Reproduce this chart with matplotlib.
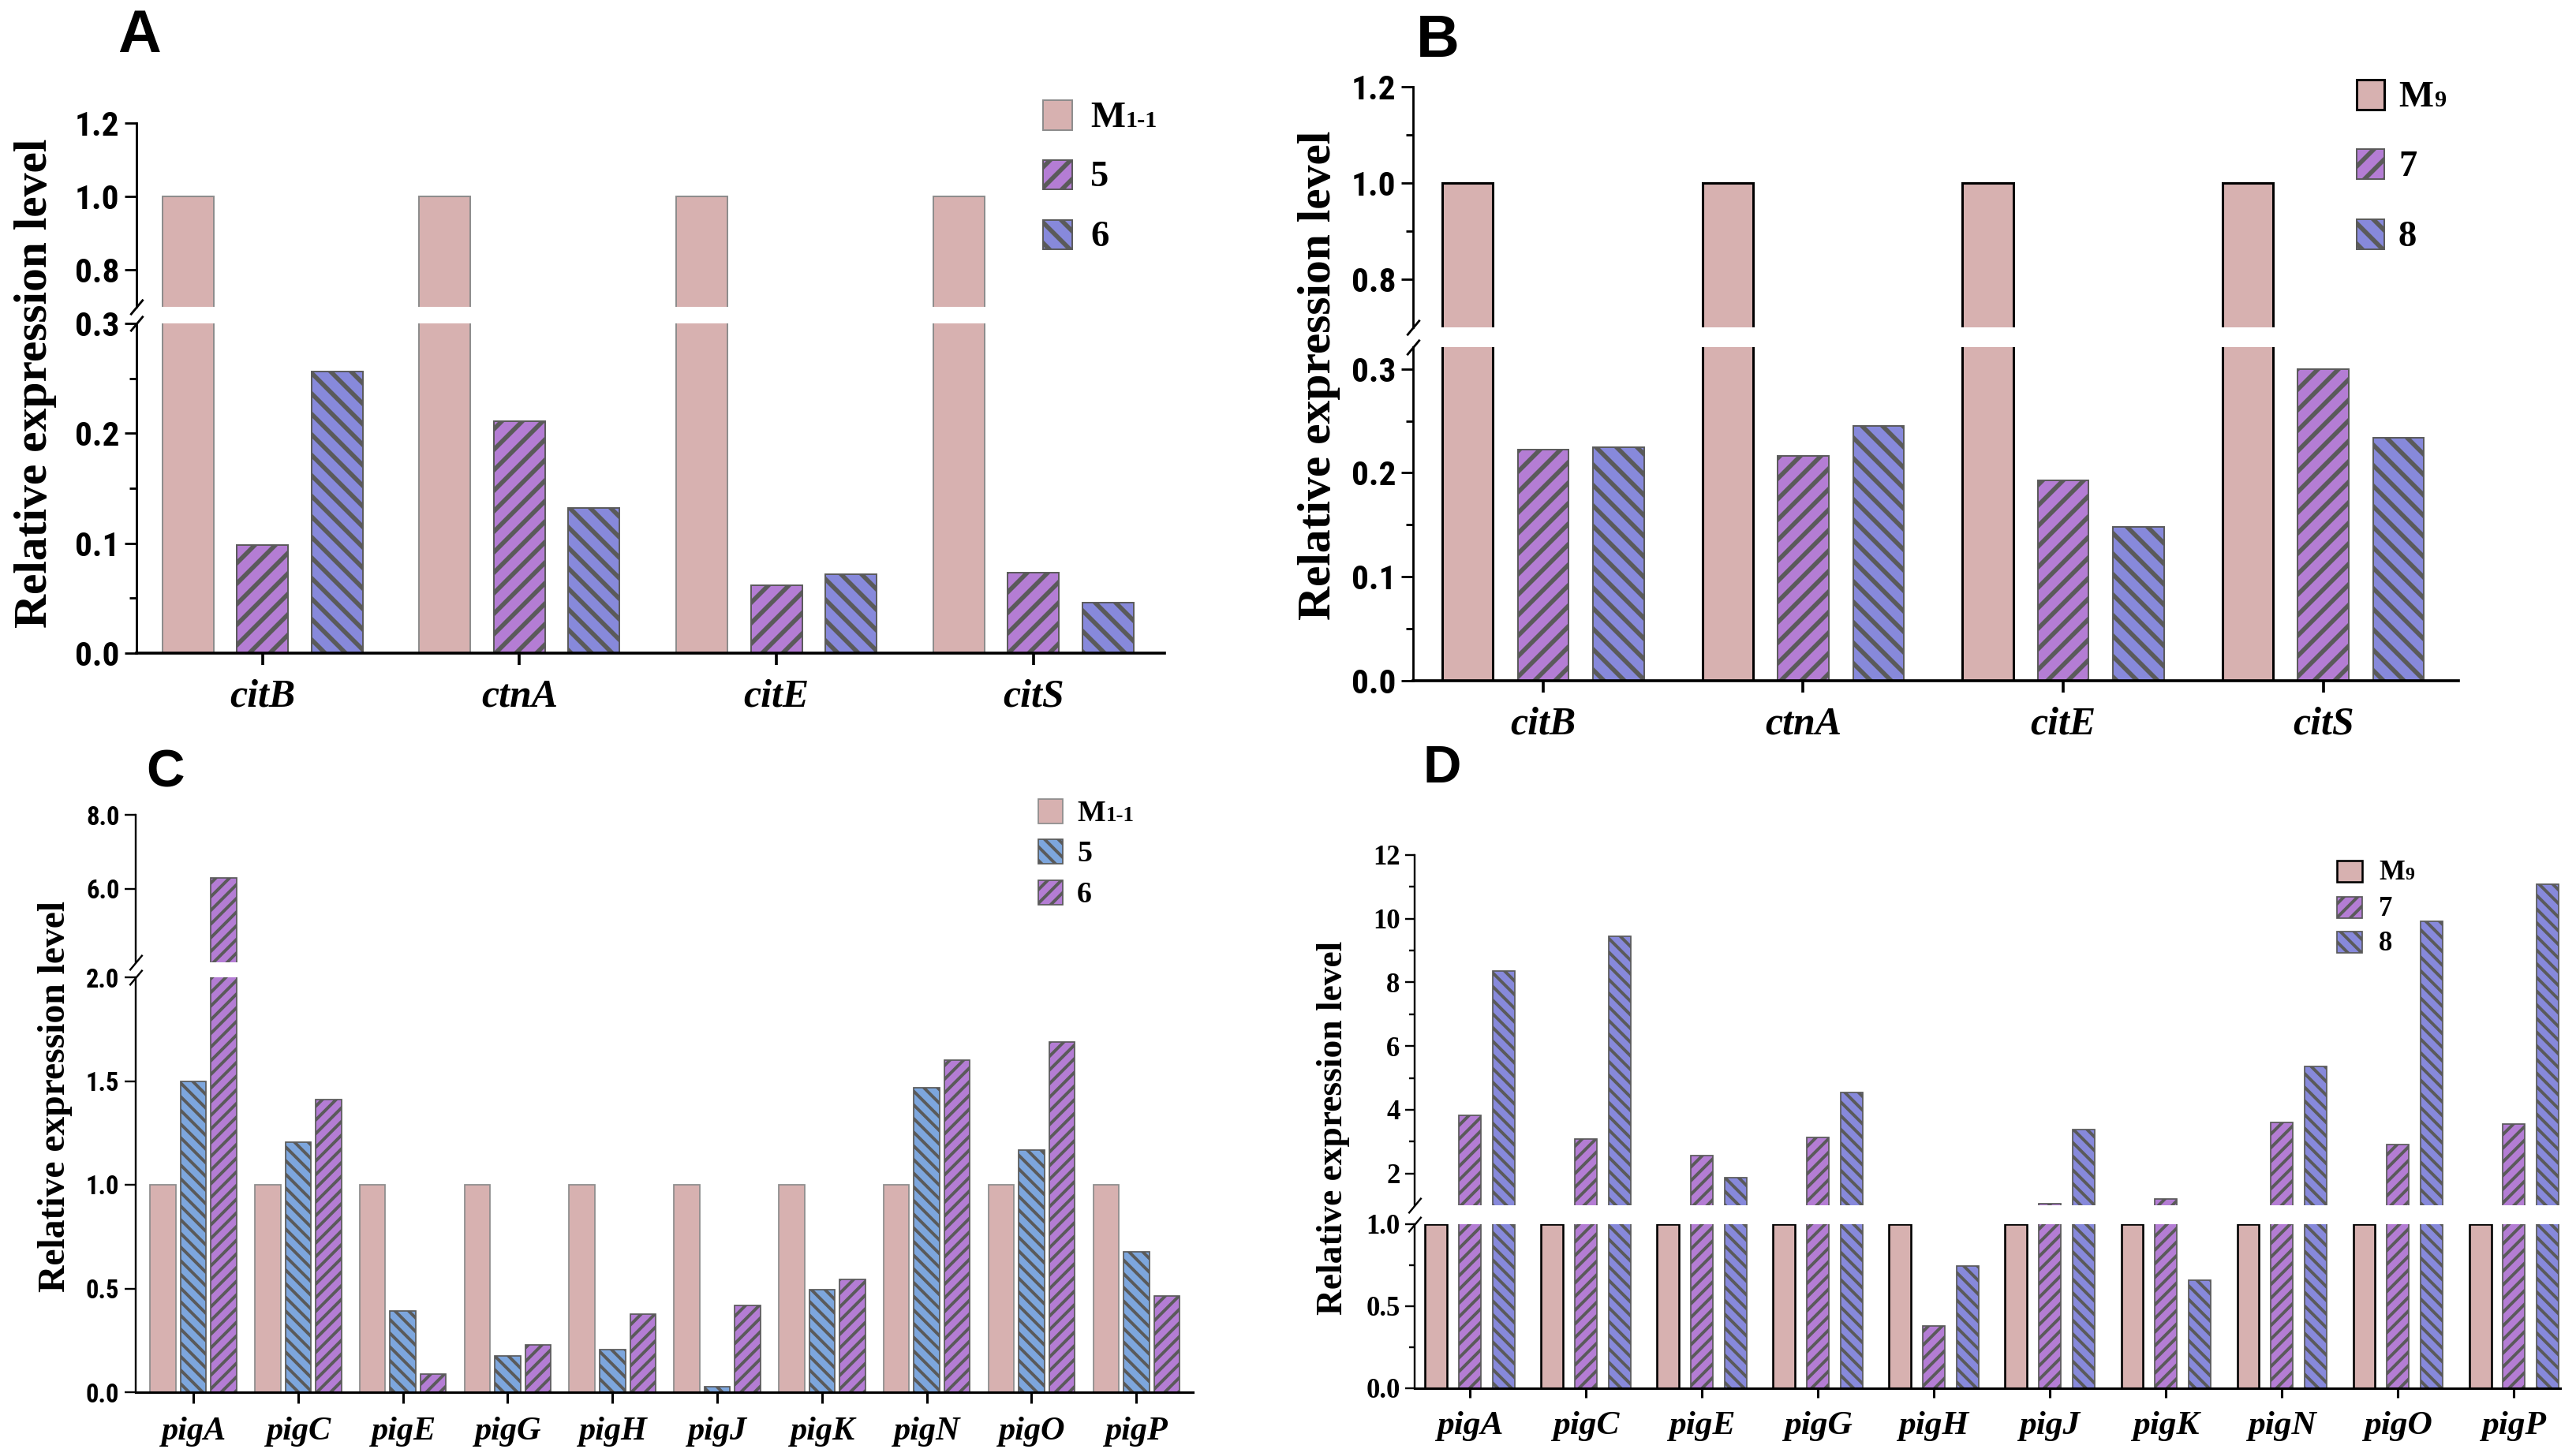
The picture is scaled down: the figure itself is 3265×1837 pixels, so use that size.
import numpy as np
import matplotlib
matplotlib.use('Agg')
import matplotlib.pyplot as plt
from matplotlib.patches import Rectangle
from matplotlib.text import Annotation
from matplotlib import font_manager

# data
cit_genes = ['citB', 'ctnA', 'citE', 'citS']
a_m11 = [1.0, 1.0, 1.0, 1.0]
a_5 = [0.098, 0.211, 0.062, 0.073]
a_6 = [0.256, 0.132, 0.072, 0.046]

b_m9 = [1.0, 1.0, 1.0, 1.0]
b_7 = [0.222, 0.216, 0.193, 0.300]
b_8 = [0.225, 0.245, 0.148, 0.234]

pig_genes = ['pigA', 'pigC', 'pigE', 'pigG', 'pigH', 'pigJ', 'pigK', 'pigN', 'pigO', 'pigP']
c_m11 = [1.0, 1.0, 1.0, 1.0, 1.0, 1.0, 1.0, 1.0, 1.0, 1.0]
c_5 = [1.50, 1.206, 0.393, 0.175, 0.204, 0.026, 0.493, 1.469, 1.167, 0.675]
c_6 = [6.28, 1.41, 0.088, 0.23, 0.377, 0.417, 0.544, 1.60, 1.689, 0.463]

d_m9 = [1.0, 1.0, 1.0, 1.0, 1.0, 1.0, 1.0, 1.0, 1.0, 1.0]
d_7 = [3.82, 3.08, 2.56, 3.12, 0.378, 1.05, 1.19, 3.61, 2.92, 3.54]
d_8 = [8.36, 9.44, 1.86, 4.55, 0.746, 3.37, 0.66, 5.36, 9.93, 11.09]

# colours
PINK = '#D7B1B0'
PURPLE = '#B47DD4'
BLUE = '#8789DB'
SKY = '#7DA6DD'
HATCH_EDGE = '#5a5a5a'
GREY_EDGE = '#8c8c8c'

W, H = 3266, 1837
DPI = 156

# look for a narrow sans for the tick numbers
NARROW, STRETCH = 'Liberation Sans', 'normal'
fonts = font_manager.fontManager.ttflist
for want in ['Liberation Sans Narrow', 'DejaVu Sans Condensed', 'Roboto Condensed', 'Open Sans Condensed']:
    if any(f.name == want for f in fonts):
        NARROW, STRETCH = want, 'normal'
        break
SERIF = 'Liberation Serif'

plt.rcParams['hatch.color'] = HATCH_EDGE
fig = plt.figure(figsize=(W / DPI, H / DPI), dpi=DPI)


def fbox(l, r, t, b):
    return [l / W, 1 - b / H, (r - l) / W, (b - t) / H]


def panel(up, lo, cats, series, xlim, width, offset, up_lim, lo_lim,
          up_ticks, up_labels, lo_ticks, lo_labels, up_minor, lo_minor,
          tick_font, tick_stretch, tick_fs, xfs, tick_len, spine_lw, hatch_lw):
    plt.rcParams['hatch.linewidth'] = hatch_lw
    ax_up = fig.add_axes(fbox(*up))
    ax_lo = fig.add_axes(fbox(*lo))
    x = np.arange(len(cats))
    for i, (vals, face, hatch, edge, lw) in enumerate(series):
        vals = np.asarray(vals, dtype=float)
        top_vals = np.where(vals > up_lim[0], vals, np.nan)
        for ax, v in ((ax_up, top_vals), (ax_lo, vals)):
            bars = ax.bar(x + (i - 1) * offset, v, width, color=face, hatch=hatch,
                          edgecolor=edge, linewidth=lw, zorder=2)
            for b in bars:
                try:
                    b.set_hatch_linewidth(hatch_lw)
                except AttributeError:
                    pass
    for ax in (ax_up, ax_lo):
        ax.set_xlim(*xlim)
        ax.spines['top'].set_visible(False)
        ax.spines['right'].set_visible(False)
        ax.spines['left'].set_linewidth(spine_lw)
        ax.spines['bottom'].set_linewidth(spine_lw * 1.3)
        ax.tick_params(axis='y', which='major', length=tick_len, width=spine_lw, pad=3)
        ax.tick_params(axis='y', which='minor', length=tick_len * 0.6, width=spine_lw)
    ax_up.spines['bottom'].set_visible(False)
    ax_up.set_xticks([])
    ax_up.set_ylim(*up_lim)
    ax_lo.set_ylim(*lo_lim)
    tk = dict(fontfamily=tick_font, fontstretch=tick_stretch, fontweight='bold', fontsize=tick_fs)
    ax_up.set_yticks(up_ticks, labels=up_labels, **tk)
    ax_lo.set_yticks(lo_ticks, labels=lo_labels, **tk)
    ax_up.set_yticks(up_minor, minor=True)
    ax_lo.set_yticks(lo_minor, minor=True)
    ax_lo.set_xticks(x, labels=cats, fontfamily=SERIF, fontweight='bold', fontstyle='italic', fontsize=xfs)
    ax_lo.tick_params(axis='x', length=tick_len, width=spine_lw * 1.3, pad=8)
    # break marks on the y axis
    kw = dict(marker=[(-1, -1.2), (1, 1.2)], markersize=9, linestyle='none',
              color='k', mec='k', mew=spine_lw, clip_on=False)
    ax_up.plot([0], [0], transform=ax_up.transAxes, **kw)
    ax_lo.plot([0], [1], transform=ax_lo.transAxes, **kw)
    return ax_up, ax_lo


def legend(x0, ycs, w, h, entries, fs, sub_fs, text_x, hatch_lw):
    plt.rcParams['hatch.linewidth'] = hatch_lw
    em = fs * DPI / 72
    for yc, (main, sub, face, hatch, edge, lw) in zip(ycs, entries):
        r = Rectangle((x0 / W, 1 - (yc + h / 2) / H), w / W, h / H, transform=fig.transFigure,
                      facecolor=face, hatch=hatch, edgecolor=edge, linewidth=lw)
        try:
            r.set_hatch_linewidth(hatch_lw)
        except AttributeError:
            pass
        fig.add_artist(r)
        base = 1 - (yc + 0.33 * em) / H
        t = fig.text(text_x / W, base, main, fontfamily=SERIF,
                     fontweight='bold', fontsize=fs, va='baseline', ha='left')
        if sub:
            an = Annotation(sub, xy=(1, base), xycoords=(t, 'figure fraction'), xytext=(0.5, 0),
                            textcoords='offset points', fontfamily=SERIF, fontweight='bold',
                            fontsize=sub_fs, va='baseline', ha='left')
            fig.add_artist(an)


def ylabel(xc, yc, fs):
    fig.text(xc / W, 1 - yc / H, 'Relative expression level', rotation=90, ha='center', va='center',
             fontfamily=SERIF, fontweight='bold', fontsize=fs)


def letter(xc, yc, s, fs):
    fig.text(xc / W, 1 - yc / H, s, ha='center', va='center', fontfamily='Liberation Sans',
             fontweight='bold', fontsize=fs)


# ---- panel A ----
panel((173, 1476, 156, 389), (173, 1476, 410, 828), cit_genes,
      [(a_m11, PINK, None, GREY_EDGE, 0.9),
       (a_5, PURPLE, '//', HATCH_EDGE, 0.9),
       (a_6, BLUE, '\\\\', HATCH_EDGE, 0.9)],
      (-0.49, 3.51), 0.2, 0.29, (0.70, 1.2), (0, 0.3),
      [0.8, 1.0, 1.2], ['0.8', '1.0', '1.2'],
      [0, 0.1, 0.2, 0.3], ['0.0', '0.1', '0.2', '0.3'],
      [], [0.05, 0.15, 0.25],
      NARROW, STRETCH, 20, 23, 7, 1.3, 2.6)
legend(1322, [146, 221, 297], 37, 37,
       [('M', '1-1', PINK, None, GREY_EDGE, 0.9),
        ('5', '', PURPLE, '//', HATCH_EDGE, 0.9),
        ('6', '', BLUE, '\\\\', HATCH_EDGE, 0.9)], 21.5, 14, 1382, 2.6)
ylabel(45, 486, 27.5)
letter(176, 46, 'A', 35)

# ---- panel B ----
panel((1791, 3116, 110, 415), (1791, 3116, 440, 863), cit_genes,
      [(b_m9, PINK, None, 'black', 1.4),
       (b_7, PURPLE, '//', HATCH_EDGE, 0.9),
       (b_8, BLUE, '\\\\', HATCH_EDGE, 0.9)],
      (-0.5, 3.52), 0.195, 0.29, (0.70, 1.2), (0, 0.321),
      [0.8, 1.0, 1.2], ['0.8', '1.0', '1.2'],
      [0, 0.1, 0.2, 0.3], ['0.0', '0.1', '0.2', '0.3'],
      [0.9, 1.1], [0.05, 0.15, 0.25],
      NARROW, STRETCH, 20, 23, 7, 1.3, 2.6)
legend(2987, [120, 208, 297], 35, 38,
       [('M', '9', PINK, None, 'black', 1.4),
        ('7', '', PURPLE, '//', HATCH_EDGE, 0.9),
        ('8', '', BLUE, '\\\\', HATCH_EDGE, 0.9)], 21.5, 14, 3040, 2.6)
ylabel(1672, 476, 27.5)
letter(1822, 52, 'B', 35)

# ---- panel C ----
panel((172, 1512, 1033, 1220), (172, 1512, 1239, 1765), pig_genes,
      [(c_m11, PINK, None, GREY_EDGE, 0.8),
       (c_5, SKY, '\\\\\\', HATCH_EDGE, 0.8),
       (c_6, PURPLE, '///', HATCH_EDGE, 0.8)],
      (-0.55, 9.54), 0.245, 0.29, (4.0, 8.0), (0, 2.0),
      [6.0, 8.0], ['6.0', '8.0'],
      [0, 0.5, 1.0, 1.5, 2.0], ['0.0', '0.5', '1.0', '1.5', '2.0'],
      [], [],
      NARROW, STRETCH, 15, 19.5, 6.5, 1.1, 1.8)
legend(1316, [1028, 1079, 1131], 31, 31,
       [('M', '1-1', PINK, None, GREY_EDGE, 0.8),
        ('5', '', SKY, '\\\\\\', HATCH_EDGE, 0.8),
        ('6', '', PURPLE, '///', HATCH_EDGE, 0.8)], 17.5, 12.5, 1365, 1.8)
ylabel(70, 1390, 22)
letter(210, 981, 'C', 31)

# ---- panel D ----
panel((1793, 3245, 1084, 1528), (1793, 3245, 1552, 1760), pig_genes,
      [(d_m9, PINK, None, 'black', 1.2),
       (d_7, PURPLE, '///', HATCH_EDGE, 0.8),
       (d_8, BLUE, '\\\\\\', HATCH_EDGE, 0.8)],
      (-0.476, 9.40), 0.19, 0.29, (1.0, 12.0), (0, 1.0),
      [2, 4, 6, 8, 10, 12], ['2', '4', '6', '8', '10', '12'],
      [0, 0.5, 1.0], ['0.0', '0.5', '1.0'],
      [3, 5, 7, 9, 11], [0.25, 0.75],
      SERIF, 'normal', 16, 20, 5.5, 1.1, 1.8)
legend(2962, [1104, 1150, 1194], 32, 27,
       [('M', '9', PINK, None, 'black', 1.2),
        ('7', '', PURPLE, '///', HATCH_EDGE, 0.8),
        ('8', '', BLUE, '\\\\\\', HATCH_EDGE, 0.8)], 16, 11, 3015, 1.8)
ylabel(1690, 1430, 21)
letter(1828, 975, 'D', 31)

fig.savefig('out.png', dpi=DPI, facecolor='white')
